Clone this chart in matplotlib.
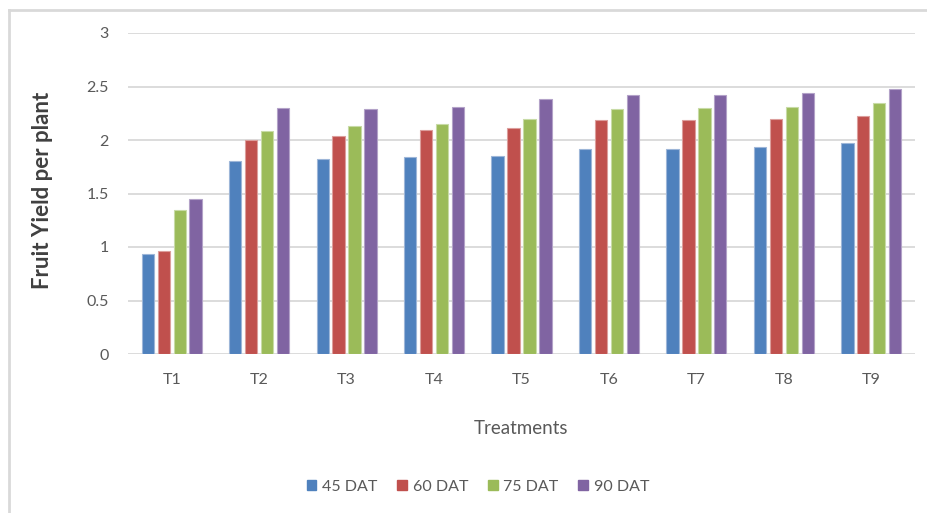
import matplotlib.pyplot as plt
import numpy as np
from matplotlib.patches import Rectangle
from matplotlib.lines import Line2D

# Data
treatments = ['T1', 'T2', 'T3', 'T4', 'T5', 'T6', 'T7', 'T8', 'T9']
series_names = ['45 DAT', '60 DAT', '75 DAT', '90 DAT']
dat45 = [0.93, 1.80, 1.82, 1.84, 1.85, 1.92, 1.92, 1.93, 1.97]
dat60 = [0.96, 2.00, 2.04, 2.09, 2.11, 2.19, 2.19, 2.20, 2.22]
dat75 = [1.35, 2.08, 2.13, 2.15, 2.20, 2.29, 2.30, 2.31, 2.35]
dat90 = [1.45, 2.30, 2.29, 2.31, 2.38, 2.42, 2.42, 2.44, 2.48]
yticks = [0, 0.5, 1, 1.5, 2, 2.5, 3]
ytick_labels = ['0', '0.5', '1', '1.5', '2', '2.5', '3']

colors = ['#4F81BD', '#C0504D', '#9BBB59', '#8064A2']
edges = ['#9DB6D8', '#DC9E9C', '#C8DBA6', '#B3A2C8']

plt.rcParams['font.family'] = ['Lato', 'DejaVu Sans']

W, H = 927, 513
fig = plt.figure(figsize=(W / 100, H / 100), dpi=100)

# Chart-area frame (top and left edges visible)
fig.add_artist(Line2D([8.5 / W, 8.5 / W], [0, 1 - 9.5 / H], color='#d9d9d9', lw=2))
fig.add_artist(Line2D([8.5 / W, 1], [1 - 9.5 / H, 1 - 9.5 / H], color='#d9d9d9', lw=2))

ax = fig.add_axes([128 / W, 1 - 354 / H, (915 - 128) / W, (354 - 33) / H])

x = np.arange(len(treatments))
slot = 0.182
width = 0.141
for i, vals in enumerate([dat45, dat60, dat75, dat90]):
    ax.bar(x + (i - 1.5) * slot, vals, width, color=colors[i],
           edgecolor=edges[i], linewidth=0.8, zorder=3)

ax.set_xlim(-0.5, len(treatments) - 0.5)
ax.set_ylim(0, 3)
ax.set_yticks(yticks)
ax.set_yticklabels(ytick_labels)
ax.set_xticks(x)
ax.set_xticklabels(treatments)
ax.tick_params(axis='both', length=0, labelsize=11.5, colors='#595959')
ax.tick_params(axis='y', pad=14)
ax.tick_params(axis='x', pad=14)
ax.grid(axis='y', color='#d9d9d9', lw=1.3, zorder=0)
for s in ax.spines.values():
    s.set_visible(False)

ax.set_ylabel('Fruit Yield per plant', fontsize=16, fontweight='bold', color='#404040')
ax.yaxis.set_label_coords(-0.095, 0.51)

fig.text(521 / W, 1 - 429 / H, 'Treatments', ha='center', va='center',
         fontsize=13.5, color='#595959')

handles = [Rectangle((0, 0), 1, 1, color=c) for c in colors]
leg = fig.legend(handles, series_names, loc='center', ncol=4,
                 bbox_to_anchor=(478 / W, 1 - 487 / H), frameon=False,
                 fontsize=11.5, handlelength=0.6, handleheight=0.6,
                 handletextpad=0.35, columnspacing=1.25)
for t in leg.get_texts():
    t.set_color('#595959')

fig.savefig('out.png', dpi=100)
